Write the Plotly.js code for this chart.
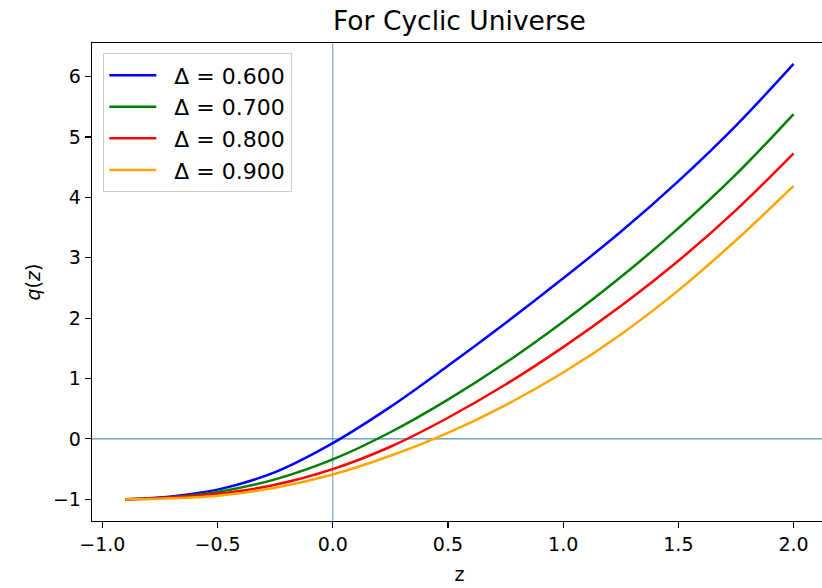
<!DOCTYPE html>
<html>
<head>
<meta charset="utf-8">
<script src="https://cdn.plot.ly/plotly-3.0.1.min.js"></script>
<style>
html, body { margin: 0; padding: 0; overflow: hidden; background: #fff; }
#chart { width: 830px; height: 588px; }
</style>
</head>
<body>
<div id="chart"></div>
<script>
// redshift values
const z = [-0.9, -0.75, -0.5, -0.25, 0.0, 0.25, 0.5, 0.75, 1.0, 1.25, 1.5, 1.75, 2.0];
// deceleration parameter q(z) for each Δ
const q_06 = [-1.00, -0.97, -0.84, -0.55, -0.07, 0.53, 1.21, 1.92, 2.66, 3.43, 4.27, 5.19, 6.21];
const q_07 = [-1.00, -0.98, -0.88, -0.67, -0.34, 0.11, 0.65, 1.26, 1.94, 2.68, 3.49, 4.38, 5.38];
const q_08 = [-1.00, -0.98, -0.91, -0.76, -0.50, -0.13, 0.35, 0.90, 1.52, 2.20, 2.95, 3.79, 4.73];
const q_09 = [-1.00, -0.99, -0.94, -0.81, -0.59, -0.28, 0.10, 0.56, 1.10, 1.73, 2.46, 3.29, 4.19];
const labels = ["Δ = 0.600", "Δ = 0.700", "Δ = 0.800", "Δ = 0.900"];
const series = [q_06, q_07, q_08, q_09];
const colors = ["#0000ff", "#008000", "#ff0000", "#ffa500"];

const font = "DejaVu Sans, sans-serif";
const traces = series.map((ys, i) => ({
  x: z, y: ys, type: "scatter", mode: "lines",
  name: labels[i], legendgroup: "g" + i,
  line: { color: colors[i], width: 2.5, shape: "spline", smoothing: 1 }
}));

const layout = {
  width: 830, height: 588,
  margin: { l: 92, r: 3, t: 43, b: 67 },
  paper_bgcolor: "#fff", plot_bgcolor: "#fff",
  font: { family: font, size: 19, color: "#000" },
  title: { text: "For Cyclic Universe", xref: "paper", x: 0.5, xanchor: "center", y: 0.965, yanchor: "middle",
           font: { family: font, size: 26.5, color: "#000" } },
  xaxis: {
    range: [-1.045, 2.145], tickvals: [-1.0, -0.5, 0.0, 0.5, 1.0, 1.5, 2.0], tickformat: ".1f",
    ticks: "outside", ticklen: 6, tickwidth: 1.2, tickcolor: "#000",
    showline: true, linecolor: "#000", linewidth: 1.3, mirror: true,
    showgrid: false, zeroline: false,
    tickfont: { family: font, size: 19 },
    title: { text: "z", font: { family: font, size: 19 }, standoff: 13 }
  },
  yaxis: {
    range: [-1.36, 6.557], tickvals: [-1, 0, 1, 2, 3, 4, 5, 6],
    ticks: "outside", ticklen: 6, tickwidth: 1.2, tickcolor: "#000",
    showline: true, linecolor: "#000", linewidth: 1.3, mirror: true,
    showgrid: false, zeroline: false,
    tickfont: { family: font, size: 19 },
    title: { text: "<i>q</i>(<i>z</i>)", font: { family: font, size: 19 }, standoff: 7 }
  },
  shapes: [
    { type: "line", xref: "x", yref: "paper", x0: 0, x1: 0, y0: 0, y1: 1, layer: "below",
      line: { color: "#1f77b4", width: 1 }, opacity: 0.75 },
    { type: "line", xref: "paper", yref: "y", x0: 0, x1: 1, y0: 0, y1: 0, layer: "below",
      line: { color: "#1f77b4", width: 1 } }
  ],
  showlegend: true,
  legend: {
    x: 0.015, y: 0.979, xanchor: "left", yanchor: "top",
    bgcolor: "rgba(255,255,255,0.8)", bordercolor: "#cccccc", borderwidth: 1.3,
    font: { family: font, size: 22 }, tracegroupgap: 3, traceorder: "normal",
    itemwidth: 60
  }
};

Plotly.newPlot("chart", traces, layout, { staticPlot: true, displayModeBar: false }).then(gd => {
  // shorten legend line samples so the gap before the label matches the reference
  gd.querySelectorAll(".legend .legendlines path").forEach(p => p.setAttribute("d", "M5,0h47"));
});
</script>
</body>
</html>
